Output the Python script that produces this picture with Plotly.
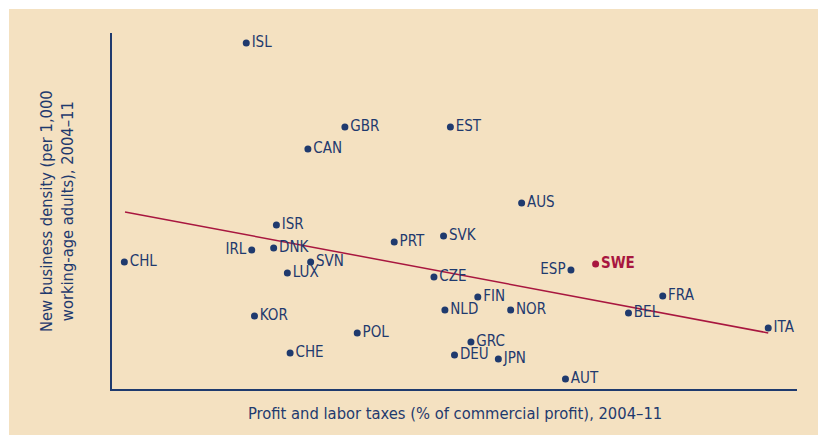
import plotly.graph_objects as go

countries = ["ISL", "GBR", "EST", "CAN", "AUS", "ISR", "IRL", "DNK", "CHL", "LUX",
             "SVN", "PRT", "KOR", "POL", "CHE", "CZE", "SVK", "ESP", "FIN", "NLD",
             "NOR", "BEL", "FRA", "ITA", "GRC", "DEU", "JPN", "AUT"]
tax = [29.8, 37.0, 44.7, 34.3, 49.9, 32.0, 30.2, 31.8, 20.9, 32.8,
       34.5, 40.6, 30.4, 37.9, 33.0, 43.5, 44.2, 53.5, 46.7, 44.3,
       49.1, 57.7, 60.2, 67.9, 46.2, 45.0, 48.2, 53.1]
density = [15.55, 11.78, 11.78, 10.79, 8.36, 7.37, 6.25, 6.34, 5.71, 5.21,
           5.71, 6.61, 3.28, 2.52, 1.62, 5.03, 6.88, 5.35, 4.13, 3.55,
           3.55, 3.42, 4.18, 2.74, 2.11, 1.53, 1.35, 0.45]
left_labels = ["IRL", "ESP"]

swe_name = ["SWE"]
swe_tax = [55.3]
swe_density = [5.62]

trend_x = [20.95, 67.9]
trend_y = [7.96, 2.52]

NAVY = "#1f3a6e"
RED = "#a8163f"
BEIGE = "#f4e1c1"
FONT = "Liberation Sans Narrow, DejaVu Sans Condensed, Arial Narrow, sans-serif"

positions = ["middle left" if c in left_labels else "middle right" for c in countries]

fig = go.Figure()
fig.add_trace(go.Scatter(
    x=trend_x, y=trend_y, mode="lines",
    line=dict(color=RED, width=1.5), hoverinfo="skip", showlegend=False))
fig.add_trace(go.Scatter(
    x=tax, y=density, mode="markers+text", text=countries,
    textposition=positions,
    marker=dict(color=NAVY, size=7),
    textfont=dict(color=NAVY, size=15, family=FONT),
    showlegend=False))
fig.add_trace(go.Scatter(
    x=swe_tax, y=swe_density, mode="markers+text", text=["<b>" + n + "</b>" for n in swe_name],
    textposition="middle right",
    marker=dict(color=RED, size=7),
    textfont=dict(color=RED, size=15, family=FONT),
    showlegend=False))

L, R, T, B = 112, 21, 33, 46
W, H = 818, 435
pw, ph = W - L - R, H - T - B

def px_x(p):
    return (p - L) / pw

def px_y(p):
    return (T + ph - p) / ph

fig.update_layout(
    width=W, height=H,
    margin=dict(l=L, r=R, t=T, b=B),
    paper_bgcolor=BEIGE,
    plot_bgcolor="rgba(0,0,0,0)",
    font=dict(family=FONT, color=NAVY),
    xaxis=dict(range=[20, 70], showgrid=False, zeroline=False, showticklabels=False,
               ticks="", showline=True, linecolor=NAVY, linewidth=2),
    yaxis=dict(range=[0, 16], showgrid=False, zeroline=False, showticklabels=False,
               ticks="", showline=True, linecolor=NAVY, linewidth=2),
    shapes=[
        dict(type="rect", xref="paper", yref="paper", layer="below",
             x0=px_x(-2), x1=px_x(W + 2), y0=px_y(9), y1=px_y(-2),
             fillcolor="white", line=dict(width=0)),
        dict(type="rect", xref="paper", yref="paper", layer="below",
             x0=px_x(-2), x1=px_x(9), y0=px_y(H + 2), y1=px_y(-2),
             fillcolor="white", line=dict(width=0)),
    ],
    annotations=[
        dict(text="Profit and labor taxes (% of commercial profit), 2004–11",
             xref="paper", yref="paper", x=0.5, y=0, yanchor="middle", yshift=-24,
             showarrow=False, font=dict(size=16.4, color=NAVY, family=FONT)),
        dict(text="New business density (per 1,000<br>working-age adults), 2004–11",
             xref="paper", yref="paper", x=0, y=0.5, xanchor="center", yanchor="middle",
             xshift=-55, textangle=-90,
             showarrow=False, font=dict(size=16.4, color=NAVY, family=FONT)),
    ],
)

fig.write_html(
    "out.html",
    config={"displayModeBar": False},
    post_script="document.body.style.margin='0';document.body.style.overflow='hidden';"
                "document.documentElement.style.overflow='hidden';",
)
